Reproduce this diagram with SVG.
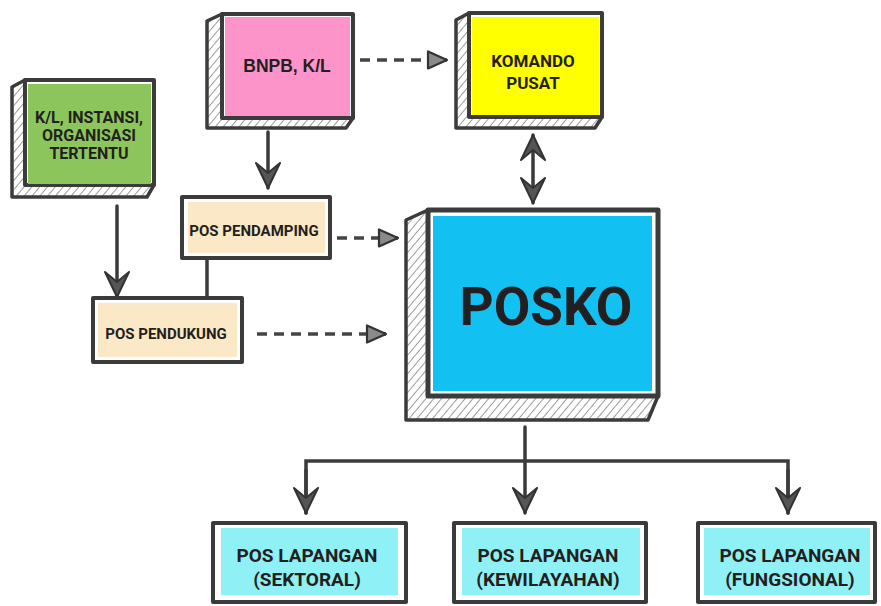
<svg xmlns="http://www.w3.org/2000/svg" width="881" height="606" viewBox="0 0 881 606">
<style>
.frame{fill:#fff;stroke:#3b3b3b;stroke-width:4;stroke-linejoin:round}
.hatch{fill:url(#hatch);stroke:#3b3b3b;stroke-width:3.5;stroke-linejoin:round}
.t{font-family:Roboto,"Liberation Sans",sans-serif;font-weight:700;fill:#231f20;text-anchor:middle}
.solid{fill:none;stroke:#3b3b3b;stroke-width:3.5;stroke-linecap:round}
.dash{fill:none;stroke:#444;stroke-width:3.5;stroke-dasharray:10 7}
</style>
<defs>
<pattern id="hatch" patternUnits="userSpaceOnUse" width="6" height="6" patternTransform="rotate(40)">
<rect width="6" height="6" fill="#fff"/>
<line x1="0" y1="0" x2="0" y2="6" stroke="#666" stroke-width="1.3"/>
</pattern>
<marker id="ah" viewBox="-27 -14 29 28" refX="0" refY="0" markerWidth="29" markerHeight="28" markerUnits="userSpaceOnUse" orient="auto-start-reverse">
<path d="M0,0 L-25,-12 L-15,0 L-25,12 Z" fill="#555" stroke="#333" stroke-width="2" stroke-linejoin="round" stroke-dasharray="none"/>
</marker>
<marker id="tri" viewBox="-22 -11 24 22" refX="0" refY="0" markerWidth="24" markerHeight="22" markerUnits="userSpaceOnUse" orient="auto">
<path d="M0,0 L-19,-8.5 L-19,8.5 Z" fill="#8a8a8a" stroke="#333" stroke-width="2.2" stroke-linejoin="round" stroke-dasharray="none"/>
</marker>
</defs>
<rect width="881" height="606" fill="#fff"/>

<g id="connectors">
<line class="dash" x1="360" y1="60" x2="447" y2="60" marker-end="url(#tri)"/>
<line class="dash" x1="337" y1="238" x2="398" y2="238" marker-end="url(#tri)"/>
<line class="dash" x1="257" y1="334" x2="386" y2="334" marker-end="url(#tri)"/>
<line class="solid" x1="268" y1="132" x2="268" y2="188" marker-end="url(#ah)"/>
<line class="solid" x1="117" y1="206" x2="117" y2="297" marker-end="url(#ah)"/>
<line class="solid" x1="533" y1="135" x2="533" y2="203" marker-start="url(#ah)" marker-end="url(#ah)"/>
<line class="solid" x1="207" y1="259" x2="207" y2="297"/>
<line class="solid" x1="525" y1="427" x2="525" y2="513" marker-end="url(#ah)"/>
<polyline class="solid" points="306,513 306,461 788,461 788,513"/>
<line class="solid" x1="306" y1="470" x2="306" y2="513" marker-end="url(#ah)"/>
<line class="solid" x1="788" y1="470" x2="788" y2="513" marker-end="url(#ah)"/>
</g>

<g id="bnpb">
<path class="hatch" d="M222,14 L207,21 L207,128 L346,128 L353,118 Z"/>
<rect class="frame" x="222" y="14" width="131" height="104"/>
<rect x="225" y="17" width="125" height="99" fill="#fd94c9"/>
<text x="287" y="72" style="font-family:'Liberation Sans',Arial,sans-serif;font-weight:700;font-size:17.5px;fill:#231f20;text-anchor:middle">BNPB, K/L</text>
</g>

<g id="komando">
<path class="hatch" d="M469,13 L456,20 L456,128 L595,128 L602,117 Z"/>
<rect class="frame" x="469" y="13" width="133" height="104"/>
<rect x="472" y="17" width="127" height="98" fill="#ffff00"/>
<text class="t" x="533" y="67" font-size="17">KOMANDO</text>
<text class="t" x="533" y="89" font-size="17">PUSAT</text>
</g>

<g id="kl-instansi">
<path class="hatch" d="M25,80 L12,87 L12,197 L147,197 L154,185 Z"/>
<rect class="frame" x="25" y="80" width="129" height="105"/>
<rect x="28" y="84" width="123" height="100" fill="#8cc55b"/>
<text class="t" x="89" y="123" font-size="16">K/L, INSTANSI,</text>
<text class="t" x="89" y="141" font-size="16">ORGANISASI</text>
<text class="t" x="89" y="159" font-size="16">TERTENTU</text>
</g>

<g id="pos-pendamping">
<rect class="frame" x="182" y="197" width="148" height="61"/>
<rect x="188" y="202" width="137" height="51" fill="#fbe8c6"/>
<text class="t" x="254" y="236" font-size="15">POS PENDAMPING</text>
</g>

<g id="pos-pendukung">
<rect class="frame" x="93" y="298" width="149" height="64"/>
<rect x="98" y="303" width="139" height="54" fill="#fbe8c6"/>
<text class="t" x="166" y="339" font-size="15">POS PENDUKUNG</text>
</g>

<g id="posko">
<path class="hatch" d="M428,210 L406,220 L406,420 L648,420 L658,396 Z"/>
<rect class="frame" x="428" y="210" width="230" height="186" style="stroke-width:5"/>
<rect x="433" y="216" width="219" height="175" fill="#13c0f2"/>
<text class="t" x="546" y="325" font-size="53">POSKO</text>
</g>

<g id="pos-lapangan-sektoral">
<rect class="frame" x="213" y="523" width="193" height="79"/>
<rect x="221" y="528" width="177" height="67" fill="#8ff0f5"/>
<text class="t" x="307" y="562" font-size="19">POS LAPANGAN</text>
<text class="t" x="307" y="586" font-size="19">(SEKTORAL)</text>
</g>

<g id="pos-lapangan-kewilayahan">
<rect class="frame" x="454" y="523" width="192" height="79"/>
<rect x="462" y="528" width="178" height="67" fill="#8ff0f5"/>
<text class="t" x="548" y="562" font-size="19">POS LAPANGAN</text>
<text class="t" x="548" y="586" font-size="19">(KEWILAYAHAN)</text>
</g>

<g id="pos-lapangan-fungsional">
<rect class="frame" x="698" y="523" width="177" height="79"/>
<rect x="704" y="528" width="166" height="67" fill="#8ff0f5"/>
<text class="t" x="790" y="562" font-size="19">POS LAPANGAN</text>
<text class="t" x="790" y="586" font-size="19">(FUNGSIONAL)</text>
</g>
</svg>
